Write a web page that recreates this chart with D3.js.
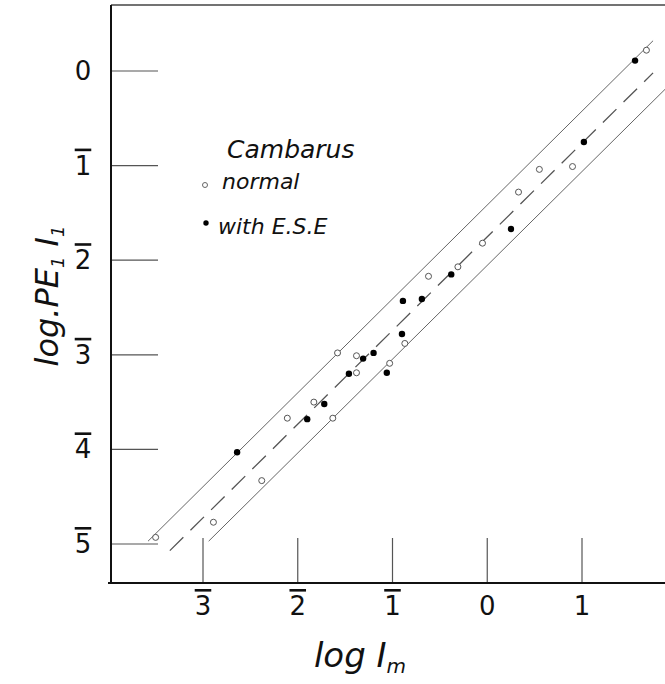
<!DOCTYPE html>
<head>
    <meta charset="utf-8">
    <script src="https://d3js.org/d3.v7.min.js"></script>
    <style>
        body { margin: 0; background: #fff; }
        text { font-family: "DejaVu Sans", sans-serif; fill: #111; }
        .bar { text-decoration: overline; }
    </style>
</head>

<body>
    <svg width="665" height="684"></svg>

    <script>
        // tick values; negative characteristics are written with a bar over the digit
        const xTicks = [-3, -2, -1, 0, 1]
        const xTickLabels = ["3", "2", "1", "0", "1"]
        const yTicks = [0, -1, -2, -3, -4, -5]
        const yTickLabels = ["0", "1", "2", "3", "4", "5"]

        // Cambarus, normal (open circles): [log Im, log PE1 I1]
        const normal = [
            [1.68, 0.22], [0.90, -1.01], [0.55, -1.04], [0.33, -1.28], [-0.05, -1.82],
            [-0.31, -2.07], [-0.62, -2.17], [-0.87, -2.88], [-1.03, -3.09], [-1.38, -3.01],
            [-1.38, -3.19], [-1.58, -2.98], [-1.83, -3.50], [-2.11, -3.67], [-1.63, -3.67],
            [-2.38, -4.33], [-2.89, -4.77], [-3.50, -4.93]
        ]
        // with E.S.E (filled dots)
        const withESE = [
            [1.56, 0.11], [1.02, -0.75], [0.25, -1.67], [-0.38, -2.15], [-0.69, -2.41],
            [-0.89, -2.43], [-0.90, -2.78], [-1.06, -3.19], [-1.20, -2.98], [-1.31, -3.04],
            [-1.46, -3.20], [-1.72, -3.52], [-1.90, -3.68], [-2.64, -4.03]
        ]

        // fitted band: upper, central (dashed), lower
        const upperLine = [[-3.58, -4.97], [1.75, 0.32]]
        const midLine = [[-3.35, -5.07], [1.75, -0.02]]
        const lowerLine = [[-2.94, -4.97], [1.88, -0.19]]

        let svg = d3.select("svg")

        const x = d3.scaleLinear().domain([-3, 1]).range([203, 582])
        const y = d3.scaleLinear().domain([0, -5]).range([71, 544])

        const frameL = 111, frameT = 5, frameB = 583, frameR = 665

        // ticks drawn inside the frame
        svg.selectAll("line.ytick")
            .data(yTicks)
            .enter()
            .append("line")
            .attr("x1", frameL)
            .attr("x2", frameL + 47)
            .attr("y1", d => y(d))
            .attr("y2", d => y(d))
            .attr("stroke", "#555")
            .attr("stroke-width", 1.2)

        svg.selectAll("line.xtick")
            .data(xTicks)
            .enter()
            .append("line")
            .attr("x1", d => x(d))
            .attr("x2", d => x(d))
            .attr("y1", frameB)
            .attr("y2", frameB - 45)
            .attr("stroke", "#555")
            .attr("stroke-width", 1.2)

        // frame
        svg.append("line")
            .attr("x1", frameL).attr("x2", frameR)
            .attr("y1", frameT).attr("y2", frameT)
            .attr("stroke", "#444").attr("stroke-width", 1.5)
        svg.append("line")
            .attr("x1", frameL).attr("x2", frameL)
            .attr("y1", frameT).attr("y2", frameB)
            .attr("stroke", "#111").attr("stroke-width", 2)
        svg.append("line")
            .attr("x1", frameL - 3).attr("x2", frameR)
            .attr("y1", frameB).attr("y2", frameB)
            .attr("stroke", "#111").attr("stroke-width", 2)

        // tick labels
        svg.selectAll("text.ylab")
            .data(yTicks)
            .enter()
            .append("text")
            .attr("class", d => d < 0 ? "bar" : null)
            .attr("x", 83)
            .attr("y", d => y(d) + 9)
            .attr("text-anchor", "middle")
            .attr("font-size", 26)
            .text((d, i) => yTickLabels[i])

        svg.selectAll("text.xlab")
            .data(xTicks)
            .enter()
            .append("text")
            .attr("class", d => d < 0 ? "bar" : null)
            .attr("x", d => x(d))
            .attr("y", 615)
            .attr("text-anchor", "middle")
            .attr("font-size", 26)
            .text((d, i) => xTickLabels[i])

        // band lines
        const pathLine = d3.line().x(d => x(d[0])).y(d => y(d[1]))
        svg.append("path")
            .attr("d", pathLine(upperLine))
            .attr("fill", "none").attr("stroke", "#666").attr("stroke-width", 1)
        svg.append("path")
            .attr("d", pathLine(lowerLine))
            .attr("fill", "none").attr("stroke", "#666").attr("stroke-width", 1)
        svg.append("path")
            .attr("d", pathLine(midLine))
            .attr("fill", "none").attr("stroke", "#555").attr("stroke-width", 1.3)
            .attr("stroke-dasharray", "19,10")

        // points
        svg.selectAll("circle.normal")
            .data(normal)
            .enter()
            .append("circle")
            .attr("cx", d => x(d[0]))
            .attr("cy", d => y(d[1]))
            .attr("r", 3)
            .attr("fill", "#fff")
            .attr("stroke", "#555")
            .attr("stroke-width", 1)

        svg.selectAll("circle.ese")
            .data(withESE)
            .enter()
            .append("circle")
            .attr("cx", d => x(d[0]))
            .attr("cy", d => y(d[1]))
            .attr("r", 3.2)
            .attr("fill", "#000")

        // legend
        svg.append("text")
            .attr("x", 227).attr("y", 158)
            .attr("font-size", 25).attr("font-style", "italic")
            .text("Cambarus")
        svg.append("circle")
            .attr("cx", 205).attr("cy", 185).attr("r", 2.5)
            .attr("fill", "#fff").attr("stroke", "#666")
        svg.append("text")
            .attr("x", 222).attr("y", 189)
            .attr("font-size", 22).attr("font-style", "italic")
            .text("normal")
        svg.append("circle")
            .attr("cx", 206).attr("cy", 223).attr("r", 2.7)
            .attr("fill", "#000")
        svg.append("text")
            .attr("x", 218).attr("y", 234)
            .attr("font-size", 22).attr("font-style", "italic")
            .text("with E.S.E")

        // axis titles
        let xt = svg.append("text")
            .attr("x", 360).attr("y", 667)
            .attr("text-anchor", "middle")
            .attr("font-size", 34).attr("font-style", "italic")
        xt.append("tspan").text("log I")
        xt.append("tspan").attr("font-size", 20).attr("dy", 6).text("m")

        let yt = svg.append("text")
            .attr("transform", "translate(58,296) rotate(-90)")
            .attr("text-anchor", "middle")
            .attr("font-size", 32).attr("font-style", "italic")
        yt.append("tspan").text("log.PE")
        yt.append("tspan").attr("font-size", 18).attr("dy", 6).text("1")
        yt.append("tspan").attr("dy", -6).text(" I")
        yt.append("tspan").attr("font-size", 18).attr("dy", 6).text("1")
    </script>
</body>
